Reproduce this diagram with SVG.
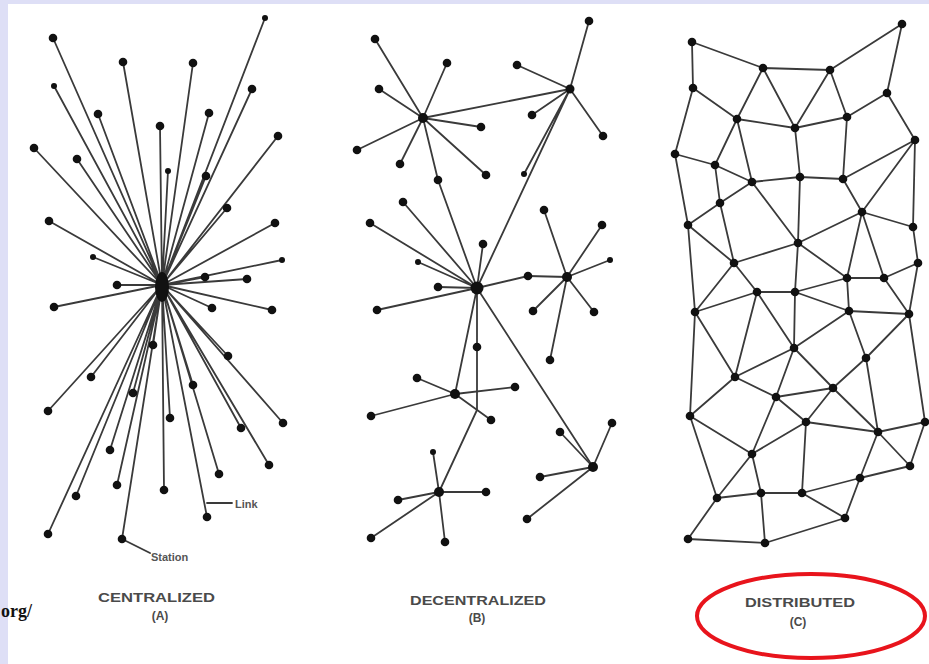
<svg xmlns="http://www.w3.org/2000/svg" width="929" height="664" viewBox="0 0 929 664">
<style>
.e{stroke:#3a3a3a;stroke-width:1.8;fill:none;stroke-linecap:round}
.n{fill:#111}
.lbl{font-family:"Liberation Sans",Arial,sans-serif;font-weight:bold;font-size:12px;fill:#4a4a4a}
.ann{font-family:"Liberation Sans",Arial,sans-serif;font-size:11px;font-weight:bold;fill:#555}
</style>
<defs>
<circle id="d" r="4.3"/>
<circle id="s" r="3"/>
</defs>
<rect width="929" height="664" fill="#dedff6"/>
<rect x="8" y="4" width="921" height="660" fill="#fff"/>

<g id="connectors">
<g id="central-links" class="e">
<path d="M162 285L265 18M162 285L53 38M162 285L123 62M162 285L193 63M162 285L54 86M162 285L252 89M162 285L98 114M162 285L209 113M162 285L160 126M162 285L278 136M162 285L34 148M162 285L77 159M162 285L168 171M162 285L206 176M162 285L227 208M162 285L49 221M162 285L275 223M162 285L93 257M162 285L282 260M162 285L205 277M162 285L247 279M162 285L117 285M162 285L54 307M162 285L212 308M162 285L272 310M162 285L153 345M162 285L228 356M162 285L91 377M162 285L193 385M162 285L133 393M162 285L48 411M162 285L170 418M162 285L283 423M162 285L241 428M162 285L110 450M162 285L269 465M162 285L219 474M162 285L117 485M162 285L164 490M162 285L76 496M162 285L207 517M162 285L48 534M162 285L122 539"/>
<path d="M207 503H232M122 539L150 553"/>
</g>
<g id="decentral-links" class="e">
<path d="M423 118L375 39M423 118L447 63M423 118L379 89M423 118L481 127M423 118L357 150M423 118L400 164M423 118L486 175M423 118L570 89M423 118L438 180L477 288"/>
<path d="M570 89L589 21M570 89L517 65M570 89L532 115M570 89L603 136M570 89L524 174M570 89L477 288"/>
<path d="M567 277L528 276M567 277L602 225M567 277L610 260M567 277L544 210M567 277L533 311M567 277L594 312M567 277L550 360"/>
<path d="M477 288L528 276M477 288L418 262M477 288L438 287M477 288L377 310M477 288L477 347M477 288L483 244M477 288L403 202M477 288L370 223M477 288L455 394M477 288L477 410L439 492M477 288L593 467"/>
<path d="M455 394L417 378M455 394L515 387M455 394L371 416M455 394L491 420"/>
<path d="M439 492L433 452M439 492L398 500M439 492L486 492M439 492L371 538M439 492L445 542"/>
<path d="M593 467L612 423M593 467L540 477M593 467L527 519M593 467L560 432"/>
</g>
<g id="distributed-links" class="e">
<path d="M692 42L763 68M763 68L830 70M830 70L902 24M902 24L887 93M692 42L693 88M693 88L737 119M763 68L737 119M763 68L795 128M830 70L795 128M830 70L847 117M887 93L847 117M887 93L915 140M737 119L795 128M795 128L847 117M693 88L675 154M737 119L715 165M737 119L752 182M675 154L715 165M715 165L752 182M795 128L800 177M847 117L843 179M915 140L843 179M752 182L800 177M800 177L843 179M715 165L720 203M675 154L688 225M752 182L720 203M720 203L688 225M843 179L862 212M915 140L862 212M915 140L913 227M862 212L913 227M752 182L798 243M800 177L798 243M862 212L798 243M688 225L734 263M720 203L734 263M798 243L734 263M913 227L918 263M862 212L847 278M862 212L884 278M798 243L847 278M884 278L918 263M688 225L695 312M798 243L795 292M734 263L757 292M734 263L695 312M847 278L884 278"/>
<path d="M757 292L795 292M695 312L757 292M795 292L847 278M847 278L849 311M884 278L909 314M795 292L849 311M849 311L909 314M918 263L909 314M909 314L925 422M757 292L794 348M795 292L794 348M849 311L794 348M909 314L866 358M849 311L866 358M757 292L735 377M695 312L735 377M695 312L690 416M794 348L735 377M794 348L776 397M794 348L833 388M866 358L833 388M866 358L878 432M735 377L776 397M735 377L690 416M776 397L833 388M776 397L806 422M833 388L806 422M833 388L878 432M776 397L752 454M690 416L752 454M806 422L752 454M806 422L878 432M806 422L802 493M925 422L878 432M925 422L910 466M878 432L910 466M878 432L860 478M910 466L860 478M860 478L802 493M860 478L845 518M802 493L845 518M690 416L717 498M752 454L717 498M752 454L761 493M717 498L761 493M761 493L802 493M717 498L688 539M761 493L765 543M688 539L765 543M765 543L845 518"/>
</g>
</g>

<g id="central-nodes" class="n">
<ellipse cx="162" cy="287" rx="7" ry="15"/>
<use href="#s" x="265" y="18"/><use href="#d" x="53" y="38"/><use href="#d" x="123" y="62"/><use href="#d" x="193" y="63"/><use href="#s" x="54" y="86"/><use href="#d" x="252" y="89"/><use href="#d" x="98" y="114"/><use href="#d" x="209" y="113"/><use href="#d" x="160" y="126"/><use href="#d" x="278" y="136"/><use href="#d" x="34" y="148"/><use href="#d" x="77" y="159"/><use href="#s" x="168" y="171"/><use href="#d" x="206" y="176"/><use href="#d" x="227" y="208"/><use href="#d" x="49" y="221"/><use href="#d" x="275" y="223"/><use href="#s" x="93" y="257"/><use href="#s" x="282" y="260"/><use href="#d" x="205" y="277"/><use href="#d" x="247" y="279"/><use href="#d" x="117" y="285"/><use href="#d" x="54" y="307"/><use href="#d" x="212" y="308"/><use href="#d" x="272" y="310"/><use href="#d" x="153" y="345"/><use href="#d" x="228" y="356"/><use href="#d" x="91" y="377"/><use href="#d" x="193" y="385"/><use href="#d" x="133" y="393"/><use href="#d" x="48" y="411"/><use href="#d" x="170" y="418"/><use href="#d" x="283" y="423"/><use href="#d" x="241" y="428"/><use href="#d" x="110" y="450"/><use href="#d" x="269" y="465"/><use href="#d" x="219" y="474"/><use href="#d" x="117" y="485"/><use href="#d" x="164" y="490"/><use href="#d" x="76" y="496"/><use href="#d" x="207" y="517"/><use href="#d" x="48" y="534"/><use href="#d" x="122" y="539"/>
</g>
<g id="central-labels">
<text class="ann" x="235" y="508">Link</text>
<text class="ann" x="151" y="561">Station</text>
</g>

<g id="decentral-nodes" class="n">
<circle cx="423" cy="118" r="5"/><circle cx="570" cy="89" r="4.5"/><circle cx="567" cy="277" r="5"/><circle cx="477" cy="288" r="6.5"/><circle cx="455" cy="394" r="5"/><circle cx="439" cy="492" r="5"/><circle cx="593" cy="467" r="5"/>
<use href="#d" x="589" y="21"/><use href="#d" x="375" y="39"/><use href="#d" x="447" y="63"/><use href="#d" x="517" y="65"/><use href="#d" x="379" y="89"/><use href="#d" x="481" y="127"/><use href="#d" x="532" y="115"/><use href="#d" x="603" y="136"/><use href="#d" x="357" y="150"/><use href="#d" x="400" y="164"/><use href="#d" x="486" y="175"/><use href="#d" x="438" y="180"/><use href="#s" x="524" y="174"/><use href="#d" x="403" y="202"/><use href="#d" x="544" y="210"/><use href="#d" x="370" y="223"/><use href="#d" x="602" y="225"/><use href="#d" x="483" y="244"/><use href="#s" x="418" y="262"/><use href="#s" x="610" y="260"/><use href="#d" x="528" y="276"/><use href="#d" x="438" y="287"/><use href="#d" x="377" y="310"/><use href="#d" x="533" y="311"/><use href="#d" x="594" y="312"/><use href="#d" x="477" y="347"/><use href="#d" x="550" y="360"/><use href="#d" x="417" y="378"/><use href="#d" x="515" y="387"/><use href="#d" x="371" y="416"/><use href="#d" x="491" y="420"/><use href="#d" x="612" y="423"/><use href="#d" x="560" y="432"/><use href="#s" x="433" y="452"/><use href="#d" x="540" y="477"/><use href="#d" x="398" y="500"/><use href="#d" x="486" y="492"/><use href="#d" x="527" y="519"/><use href="#d" x="371" y="538"/><use href="#d" x="445" y="542"/>
</g>

<g id="distributed-nodes" class="n">
<use href="#d" x="902" y="24"/><use href="#d" x="692" y="42"/><use href="#d" x="763" y="68"/><use href="#d" x="830" y="70"/><use href="#d" x="693" y="88"/><use href="#d" x="887" y="93"/><use href="#d" x="737" y="119"/><use href="#d" x="795" y="128"/><use href="#d" x="847" y="117"/><use href="#d" x="915" y="140"/><use href="#d" x="675" y="154"/><use href="#d" x="715" y="165"/><use href="#d" x="752" y="182"/><use href="#d" x="800" y="177"/><use href="#d" x="843" y="179"/><use href="#d" x="862" y="212"/><use href="#d" x="720" y="203"/><use href="#d" x="688" y="225"/><use href="#d" x="913" y="227"/><use href="#d" x="798" y="243"/><use href="#d" x="734" y="263"/><use href="#d" x="918" y="263"/><use href="#d" x="847" y="278"/><use href="#d" x="884" y="278"/><use href="#d" x="757" y="292"/><use href="#d" x="795" y="292"/><use href="#d" x="695" y="312"/><use href="#d" x="849" y="311"/><use href="#d" x="909" y="314"/><use href="#d" x="794" y="348"/><use href="#d" x="866" y="358"/><use href="#d" x="735" y="377"/><use href="#d" x="833" y="388"/><use href="#d" x="776" y="397"/><use href="#d" x="690" y="416"/><use href="#d" x="806" y="422"/><use href="#d" x="925" y="422"/><use href="#d" x="878" y="432"/><use href="#d" x="752" y="454"/><use href="#d" x="910" y="466"/><use href="#d" x="860" y="478"/><use href="#d" x="717" y="498"/><use href="#d" x="761" y="493"/><use href="#d" x="802" y="493"/><use href="#d" x="845" y="518"/><use href="#d" x="688" y="539"/><use href="#d" x="765" y="543"/>
</g>

<g id="captions">
<text class="lbl" x="98" y="602" textLength="117" lengthAdjust="spacingAndGlyphs">CENTRALIZED</text>
<text class="lbl" x="160" y="620" text-anchor="middle">(A)</text>
<text class="lbl" x="410" y="605" textLength="136" lengthAdjust="spacingAndGlyphs">DECENTRALIZED</text>
<text class="lbl" x="477" y="622" text-anchor="middle">(B)</text>
<text class="lbl" x="745" y="607" textLength="110" lengthAdjust="spacingAndGlyphs">DISTRIBUTED</text>
<text class="lbl" x="798" y="626" text-anchor="middle">(C)</text>
</g>
<ellipse id="highlight" cx="811" cy="616" rx="114" ry="42" fill="none" stroke="#e8141c" stroke-width="4"/>
<text x="1" y="617" font-family="Liberation Serif,serif" font-size="18" font-weight="bold" fill="#111">org/</text>
</svg>
